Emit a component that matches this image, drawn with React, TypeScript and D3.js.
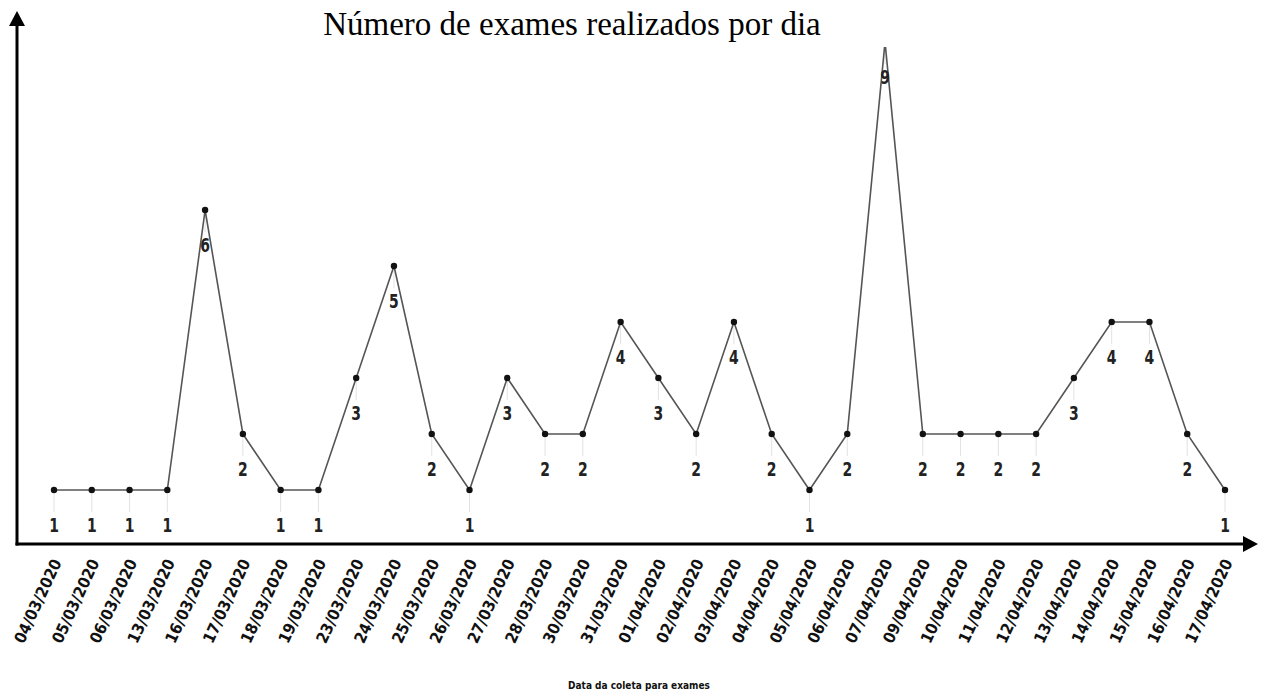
import React from 'react';
import * as d3 from 'd3';

// dates of sample collection
const dates = [
  '04/03/2020', '05/03/2020', '06/03/2020', '13/03/2020', '16/03/2020', '17/03/2020',
  '18/03/2020', '19/03/2020', '23/03/2020', '24/03/2020', '25/03/2020', '26/03/2020',
  '27/03/2020', '28/03/2020', '30/03/2020', '31/03/2020', '01/04/2020', '02/04/2020',
  '03/04/2020', '04/04/2020', '05/04/2020', '06/04/2020', '07/04/2020', '09/04/2020',
  '10/04/2020', '11/04/2020', '12/04/2020', '13/04/2020', '14/04/2020', '15/04/2020',
  '16/04/2020', '17/04/2020',
];

// exams per day
const exams = [1, 1, 1, 1, 6, 2, 1, 1, 3, 5, 2, 1, 3, 2, 2, 4, 3, 2, 4, 2, 1, 2, 9, 2, 2, 2, 2, 3, 4, 4, 2, 1];

const title = 'Número de exames realizados por dia';
const xTitle = 'Data da coleta para exames';

const W = 1261, H = 693;
const axisX = 17, axisY = 544;
const condensed = '"DejaVu Sans Condensed", "DejaVu Sans", sans-serif';

export default function App() {
  const data = dates.map((d, i) => ({ date: d, value: exams[i] }));

  const x = d3.scalePoint<string>().domain(dates).range([54, 1225]);
  const y = d3.scaleLinear().domain([0, 9]).range([546, 42]);

  const line = d3.line<{ date: string; value: number }>()
    .x(d => x(d.date) as number)
    .y(d => y(d.value));

  return (
    <svg width={W} height={H} style={{ position: 'absolute', left: 0, top: 0 }}>
      <defs>
        <clipPath id="plot-clip">
          <rect x={axisX} y={47} width={W} height={axisY - 47} />
        </clipPath>
      </defs>

      {/* title */}
      <text x={572} y={35}
        textAnchor="middle"
        fontFamily='"Liberation Serif", "Times New Roman", serif'
        fontSize={33}
        fill="#000"
      >
        {title}
      </text>

      {/* drop lines, line and points (top is cut off like the original) */}
      <g clipPath="url(#plot-clip)">
        {data.map((d, i) => (
          <line key={'drop' + i}
            x1={x(d.date)} x2={x(d.date)}
            y1={y(d.value) + 4} y2={y(d.value) + 22}
            stroke="#e2e2e2" strokeWidth={1} />
        ))}
        <path d={line(data) || ''} fill="none" stroke="#555" strokeWidth={1.6} />
        {data.map((d, i) => (
          <circle key={'pt' + i} cx={x(d.date)} cy={y(d.value)} r={3.2} fill="#111" />
        ))}
      </g>

      {/* value labels */}
      {data.map((d, i) => (
        <text key={'lab' + i}
          transform={`translate(${x(d.date)},${y(d.value) + 42}) scale(1,1.3)`}
          textAnchor="middle"
          fontFamily={condensed}
          fontWeight="bold"
          fontSize={15.5}
          fill="#222"
        >
          {d.value}
        </text>
      ))}

      {/* axes with arrows */}
      <line x1={axisX} x2={axisX} y1={24} y2={axisY + 1.5} stroke="#000" strokeWidth={3} />
      <line x1={axisX - 1.5} x2={W - 14} y1={axisY} y2={axisY} stroke="#000" strokeWidth={3} />
      <path d={`M${axisX},11 L${axisX - 8},26 L${axisX + 8},26 Z`} fill="#000" />
      <path d={`M${W - 3},${axisY} L${W - 18},${axisY - 8} L${W - 18},${axisY + 8} Z`} fill="#000" />

      {/* x tick labels */}
      {dates.map(d => (
        <text key={d}
          transform={`translate(${(x(d) as number) + 3},560) rotate(-65)`}
          textAnchor="end"
          dominantBaseline="central"
          fontFamily={condensed}
          fontWeight="bold"
          fontSize={16}
          fill="#111"
        >
          {d}
        </text>
      ))}

      {/* x axis title */}
      <text x={639} y={689} textAnchor="middle" fontFamily={condensed}
        fontWeight="bold" fontSize={10} fill="#111">
        {xTitle}
      </text>
    </svg>
  );
}
